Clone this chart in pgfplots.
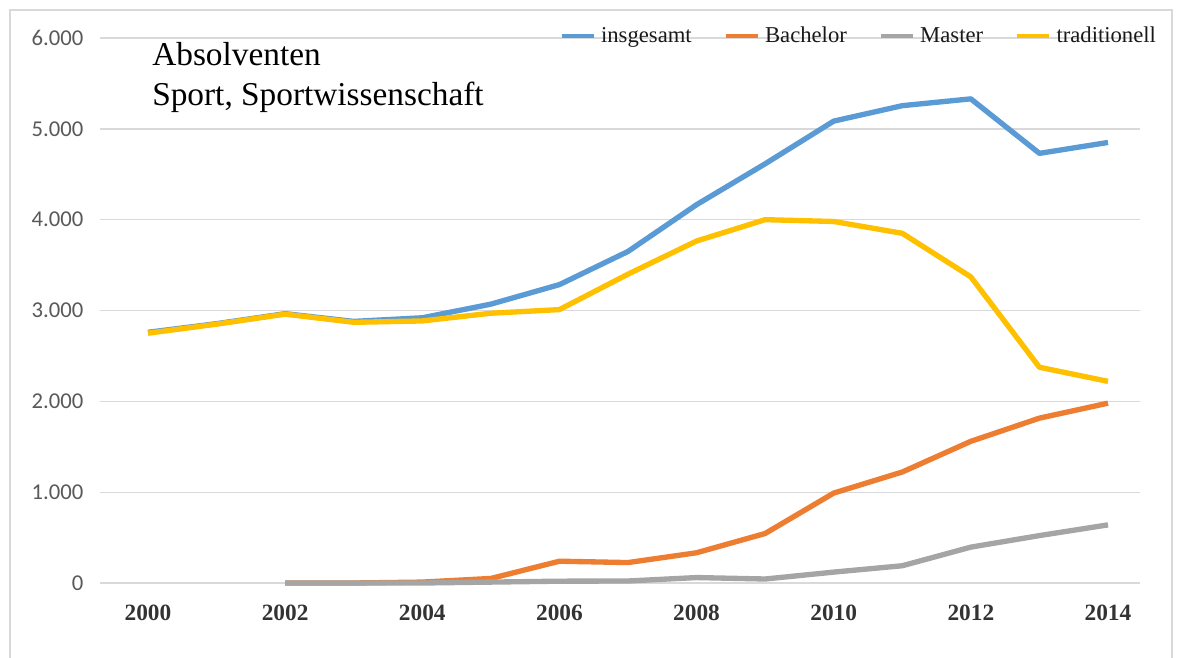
\documentclass[border=0pt]{standalone}
\usepackage{fontspec}
\setmainfont{Liberation Serif}
\newfontfamily\carlito{Carlito}
\usepackage{pgfplots}
\pgfplotsset{compat=1.18}

\definecolor{cBlue}{HTML}{5B9BD5}
\definecolor{cOrange}{HTML}{ED7D31}
\definecolor{cGray}{HTML}{A5A5A5}
\definecolor{cYellow}{HTML}{FFC000}
\definecolor{cGrid}{HTML}{D9D9D9}

\begin{document}
\begin{tikzpicture}
\useasboundingbox (-75pt,-55.5pt) rectangle (810pt,437.25pt);
\draw[cGrid, line width=1pt] (-67.5pt,-70pt) -- (-67.5pt,429.75pt) -- (804pt,429.75pt) -- (804pt,-70pt);
\begin{axis}[
  scale only axis,
  width=780pt, height=408.75pt,
  xmin=1999.3, xmax=2014.467,
  ymin=0, ymax=6000,
  xtick={2000,2002,...,2014},
  ytick={0,1000,...,6000},
  ymajorgrids,
  grid style={cGrid, line width=1pt},
  axis line style={draw=none},
  major tick length=0pt,
  scaled y ticks=false,
  clip=false,
  /pgf/number format/assume math mode=true,
  yticklabel style={/pgf/number format/1000 sep={.}, font=\carlito\fontsize{17}{20}\selectfont, text=black!65, xshift=-9pt},
  xticklabel style={/pgf/number format/1000 sep={}, font=\bfseries\fontsize{17.5}{20}\selectfont, text=black!80, yshift=-13pt},
  legend columns=4,
  legend style={draw=none, fill=none, at={(1.022,1.03)}, anchor=north east,
    font=\fontsize{17}{20}\selectfont, text=black!90,
    /tikz/every odd column/.append style={column sep=2pt},
    /tikz/every even column/.append style={column sep=22pt}},
  legend image code/.code={\draw[#1, line width=3pt] (0pt,0pt) -- (24pt,0pt);},
]
\addplot[cBlue, line width=4pt, line join=round] coordinates {
 (2000,2760) (2001,2855) (2002,2965) (2003,2880) (2004,2920) (2005,3070) (2006,3285)
 (2007,3650) (2008,4165) (2009,4615) (2010,5085) (2011,5255) (2012,5330) (2013,4730) (2014,4850)};
\addlegendentry{insgesamt}
\addplot[cOrange, line width=4pt, line join=round] coordinates {
 (2002,0) (2003,0) (2004,10) (2005,50) (2006,240) (2007,225) (2008,333) (2009,545)
 (2010,990) (2011,1222) (2012,1560) (2013,1815) (2014,1980)};
\addlegendentry{Bachelor}
\addplot[cGray, line width=4pt, line join=round] coordinates {
 (2002,0) (2003,0) (2004,0) (2005,10) (2006,20) (2007,22) (2008,60) (2009,44)
 (2010,120) (2011,190) (2012,395) (2013,522) (2014,640)};
\addlegendentry{Master}
\addplot[cYellow, line width=4pt, line join=round] coordinates {
 (2000,2750) (2001,2850) (2002,2960) (2003,2870) (2004,2885) (2005,2970) (2006,3010)
 (2007,3400) (2008,3765) (2009,4000) (2010,3980) (2011,3850) (2012,3370) (2013,2375) (2014,2220)};
\addlegendentry{traditionell}
\node[anchor=north west, align=left, font=\fontsize{25}{30}\selectfont, inner sep=0pt]
  at (axis description cs:0.05,0.993) {Absolventen\\Sport, Sportwissenschaft};
\end{axis}
\end{tikzpicture}
\end{document}
